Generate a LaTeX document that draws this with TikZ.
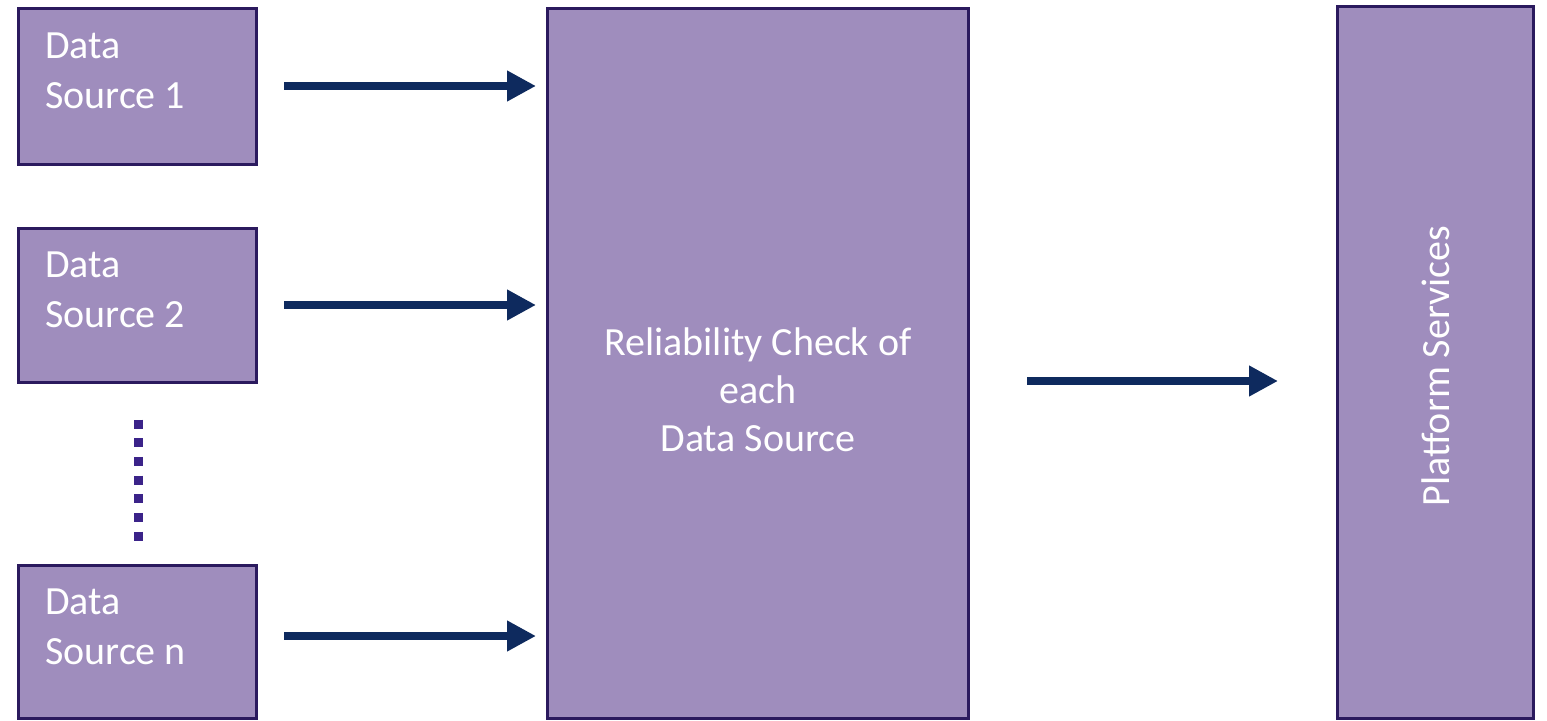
\documentclass[tikz,border=0pt]{standalone}
\usepackage{fontspec}
\setmainfont{Carlito}
\usetikzlibrary{arrows.meta}
\definecolor{boxfill}{HTML}{9F8DBD}
\definecolor{boxline}{HTML}{2B1A5E}
\definecolor{arrowblue}{HTML}{0E2A5E}
\definecolor{dotpurple}{HTML}{3B2389}
\tikzset{
  block/.style={draw=boxline, line width=3pt, fill=boxfill, inner sep=0pt},
  lbl/.style={text=white, font=\fontsize{40}{50}\selectfont, inner sep=0pt},
  flow/.style={draw=arrowblue, line width=7.5pt,
    -{Triangle[length=29pt, width=29pt]}},
}
\begin{document}
\begin{tikzpicture}[x=1pt, y=-1pt]
\useasboundingbox (0,0) rectangle (1547,720);

% data sources
\node[block, minimum width=238pt, minimum height=156pt] (ds1) at (137,86) {};
\node[block, minimum width=238pt, minimum height=154pt] (ds2) at (137,305) {};
\node[block, minimum width=238pt, minimum height=153pt] (dsn) at (137,641.5) {};

% labels: the base anchor sits on the last line's baseline
\node[lbl, anchor=base west, align=left] (t1) at (45,108) {Data\\Source 1};
\node[lbl, anchor=base west, align=left] (t2) at (45,327) {Data\\Source 2};
\node[lbl, anchor=base west, align=left] (tn) at (45,664) {Data\\Source n};

% ellipsis between source 2 and source n
\coordinate (d0) at (138,419.5);
\coordinate (d1) at (138,546);
\draw[dotpurple, line width=9pt, dash pattern=on 9pt off 9.67pt] (d0) -- (d1);

% reliability check
\node[block, minimum width=421pt, minimum height=710pt] (rc) at (757.5,363) {};
\node[lbl, align=center, font=\fontsize{40}{48}\selectfont] (rct) at (758,390)
  {Reliability Check of\\each\\Data Source};

% platform services
\node[block, minimum width=196pt, minimum height=712pt] (ps) at (1435,362) {};
\node[lbl, rotate=90] (pst) at (1436,366) {Platform Services};

% arrows into the check
\coordinate (a1) at (284,86);  \coordinate (b1) at (536,86);
\coordinate (a2) at (284,305); \coordinate (b2) at (536,305);
\coordinate (an) at (284,636); \coordinate (bn) at (536,636);
\draw[flow] (a1) -- (b1);
\draw[flow] (a2) -- (b2);
\draw[flow] (an) -- (bn);

% arrow to platform services
\coordinate (c0) at (1027,381);
\coordinate (c1) at (1278,381);
\draw[flow] (c0) -- (c1);
\end{tikzpicture}
\end{document}
